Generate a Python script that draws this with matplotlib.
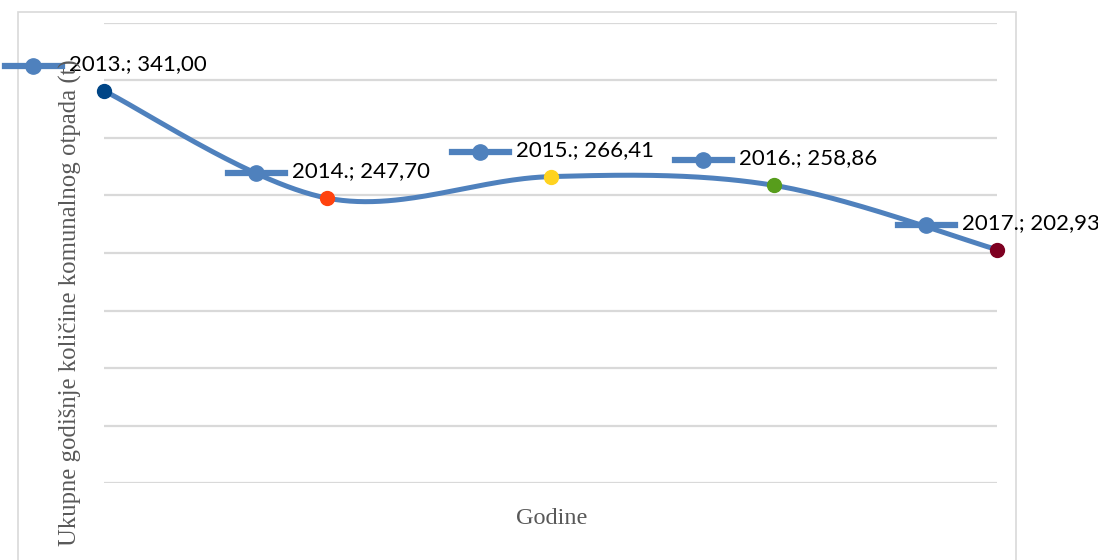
import numpy as np
import matplotlib
matplotlib.use('Agg')
import matplotlib.pyplot as plt
from matplotlib.lines import Line2D
from matplotlib.patches import Rectangle

# data
years = [2013, 2014, 2015, 2016, 2017]
values = [341.00, 247.70, 266.41, 258.86, 202.93]
labels = ['2013.; 341,00', '2014.; 247,70', '2015.; 266,41', '2016.; 258,86', '2017.; 202,93']
point_colors = ['#004586', '#ff420e', '#ffd320', '#579d1c', '#7e0021']
y_ticks = list(range(0, 401, 50))

line_color = '#4f81bd'
grid_color = '#d9d9d9'


def smooth(xs, ys, n=60):
    # bezier smoothing like office charts (catmull-rom control points)
    xs, ys = np.asarray(xs, float), np.asarray(ys, float)
    px = np.concatenate([[xs[0]], xs, [xs[-1]]])
    py = np.concatenate([[ys[0]], ys, [ys[-1]]])
    out_x, out_y = [], []
    t = np.linspace(0, 1, n)
    for i in range(1, len(px) - 2):
        p0x, p1x, p2x, p3x = px[i - 1], px[i], px[i + 1], px[i + 2]
        p0y, p1y, p2y, p3y = py[i - 1], py[i], py[i + 1], py[i + 2]
        c1x, c1y = p1x + (p2x - p0x) / 6, p1y + (p2y - p0y) / 6
        c2x, c2y = p2x - (p3x - p1x) / 6, p2y - (p3y - p1y) / 6
        bx = (1 - t) ** 3 * p1x + 3 * (1 - t) ** 2 * t * c1x + 3 * (1 - t) * t ** 2 * c2x + t ** 3 * p2x
        by = (1 - t) ** 3 * p1y + 3 * (1 - t) ** 2 * t * c1y + 3 * (1 - t) * t ** 2 * c2y + t ** 3 * p2y
        out_x.extend(bx)
        out_y.extend(by)
    return out_x, out_y


fig = plt.figure(figsize=(10.98, 5.60), dpi=100)
W, H = 1098, 560

# outer chart border
fig.add_artist(Rectangle((18 / W, -0.05), (1016 - 18) / W, 1 - 12 / H + 0.05,
                         transform=fig.transFigure, fill=False, edgecolor=grid_color, lw=1.2))

ax = fig.add_axes([104 / W, 1 - 483 / H, (997 - 104) / W, (483 - 23) / H])
ax.set_xlim(years[0], years[-1])
ax.set_ylim(0, 400)
ax.set_yticks(y_ticks)
ax.set_xticks(years)
ax.grid(axis='y', color=grid_color, lw=1.6)
ax.set_axisbelow(True)
ax.tick_params(length=0, labelleft=False, labelbottom=False)
for s in ax.spines.values():
    s.set_visible(False)

sx, sy = smooth(years, values)
ax.plot(sx, sy, color=line_color, lw=3.6, solid_capstyle='round', zorder=3)
for yr, v, c in zip(years, values, point_colors):
    ax.plot(yr, v, 'o', color=c, ms=10, mec=c, zorder=4, clip_on=False)

# data labels with legend key, placed above each point
for yr, v, lab in zip(years, values, labels):
    px, py = ax.transData.transform((yr, v))
    ky = py + 25
    fig.add_artist(Line2D([px - 99, px - 42], [ky, ky], transform=None,
                          color=line_color, lw=4.5, marker=None))
    fig.add_artist(Line2D([px - 71], [ky], transform=None, marker='o', ms=11,
                          color=line_color, mec=line_color))
    fig.text((px - 35) / W, (ky + 2) / H, lab, ha='left', va='center',
             family='Lato', fontsize=16, color='black')

fig.text(70 / W, 1 - 303 / H, 'Ukupne godišnje količine komunalnog otpada (t)',
         rotation=90, ha='center', va='center', family='Liberation Serif',
         fontsize=17.8, color='#595959')
fig.text(552 / W, 1 - 518 / H, 'Godine', ha='center', va='center',
         family='Liberation Serif', fontsize=17.5, color='#595959')

fig.savefig('out.png', dpi=100)
